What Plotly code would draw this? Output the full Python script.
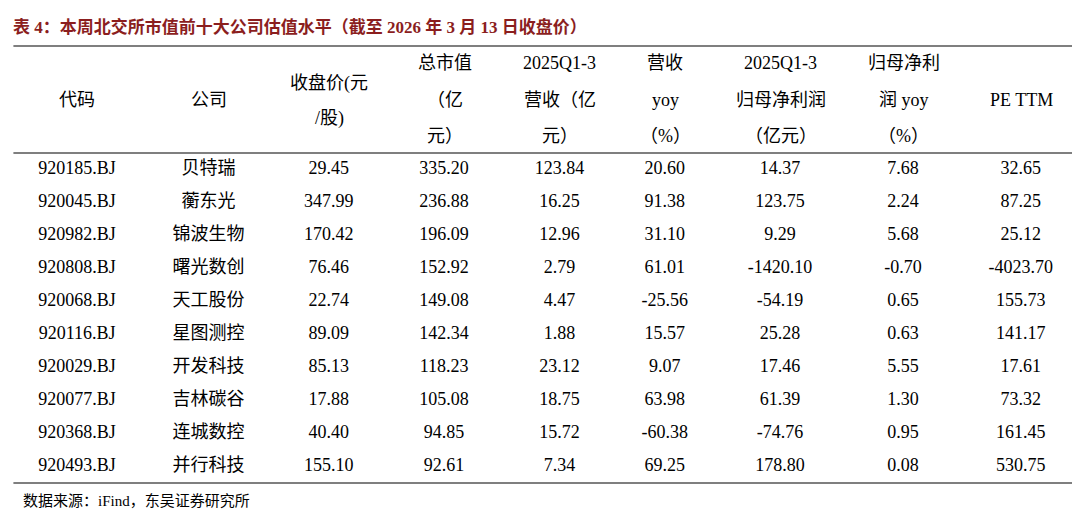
import plotly.graph_objects as go

title = "表 4：本周北交所市值前十大公司估值水平（截至 2026 年 3 月 13 日收盘价）"
source = "数据来源：iFind，东吴证券研究所"

# header lines per column
headers = [["代码"], ["公司"], ["收盘价(元", "/股)"], ["总市值", "（亿", "元）"], ["2025Q1-3", "营收（亿", "元）"],
           ["营收", "yoy", "（%）"], ["2025Q1-3", "归母净利润", "（亿元）"], ["归母净利", "润 yoy", "（%）"], ["PE TTM"]]

codes = ["920185.BJ", "920045.BJ", "920982.BJ", "920808.BJ", "920068.BJ",
         "920116.BJ", "920029.BJ", "920077.BJ", "920368.BJ", "920493.BJ"]
names = ["贝特瑞", "蘅东光", "锦波生物", "曙光数创", "天工股份",
         "星图测控", "开发科技", "吉林碳谷", "连城数控", "并行科技"]
close = ["29.45", "347.99", "170.42", "76.46", "22.74", "89.09", "85.13", "17.88", "40.40", "155.10"]
mktcap = ["335.20", "236.88", "196.09", "152.92", "149.08", "142.34", "118.23", "105.08", "94.85", "92.61"]
revenue = ["123.84", "16.25", "12.96", "2.79", "4.47", "1.88", "23.12", "18.75", "15.72", "7.34"]
rev_yoy = ["20.60", "91.38", "31.10", "61.01", "-25.56", "15.57", "9.07", "63.98", "-60.38", "69.25"]
profit = ["14.37", "123.75", "9.29", "-1420.10", "-54.19", "25.28", "17.46", "61.39", "-74.76", "178.80"]
prof_yoy = ["7.68", "2.24", "5.68", "-0.70", "0.65", "0.63", "5.55", "1.30", "0.95", "0.08"]
pe = ["32.65", "87.25", "25.12", "-4023.70", "155.73", "141.17", "17.61", "73.32", "161.45", "530.75"]

font = "Liberation Serif, Noto Sans CJK SC, serif"
colw = [127, 135, 105, 125, 105, 105, 125, 120, 115]
x0, x1 = 0.005, 0.992

fig = go.Figure(go.Table(
    domain=dict(x=[x0, x1], y=[0.072, 0.926]),
    columnwidth=colw,
    header=dict(values=[""] * len(colw), height=107,
                fill_color="white", line_color="white"),
    cells=dict(values=[codes, names, close, mktcap, revenue, rev_yoy, profit, prof_yoy, pe],
               align="center", height=33, fill_color="white", line_color="white",
               font=dict(family=font, size=18, color="black")),
))

# header text placed line by line
tot = sum(colw)
acc = 0
line_y = {1: [92], 2: [75, 110], 3: [55, 92, 128]}
for w, lines in zip(colw, headers):
    cx = x0 + (x1 - x0) * (acc + w / 2) / tot
    acc += w
    for txt, py in zip(lines, line_y[len(lines)]):
        fig.add_annotation(text=txt, xref="paper", yref="paper", x=cx, y=1 - py / 512,
                           xanchor="center", yanchor="middle", showarrow=False,
                           font=dict(family=font, size=18, color="black"))

for yp in [1 - 38 / 512, 1 - 145 / 512, 1 - 475 / 512]:
    fig.add_shape(type="line", xref="paper", yref="paper", x0=x0, x1=x1,
                  y0=yp, y1=yp, line=dict(color="black", width=1.2))

fig.add_annotation(text="<b>" + title + "</b>", xref="paper", yref="paper", x=0.003, y=1 - 19 / 512,
                   xanchor="left", yanchor="middle", showarrow=False,
                   font=dict(family=font, size=17, color="#8B1E1E"))
fig.add_annotation(text=source, xref="paper", yref="paper", x=0.012, y=1 - 493 / 512,
                   xanchor="left", yanchor="middle", showarrow=False,
                   font=dict(family=font, size=15, color="black"))

fig.update_layout(width=1080, height=512, margin=dict(l=0, r=0, t=0, b=0),
                  paper_bgcolor="white")
fig.write_html("out.html")
